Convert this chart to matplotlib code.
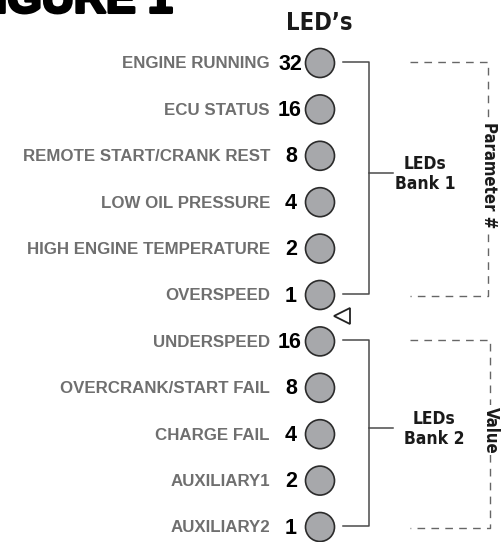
import matplotlib
matplotlib.use("Agg")
import matplotlib.pyplot as plt
from matplotlib.patches import Circle
from matplotlib import font_manager
import matplotlib.patheffects as pe

# ---- data ----
bank1_labels = ["ENGINE RUNNING", "ECU STATUS", "REMOTE START/CRANK REST",
                "LOW OIL PRESSURE", "HIGH ENGINE TEMPERATURE", "OVERSPEED"]
bank1_values = [32, 16, 8, 4, 2, 1]
bank2_labels = ["UNDERSPEED", "OVERCRANK/START FAIL", "CHARGE FAIL",
                "AUXILIARY1", "AUXILIARY2"]
bank2_values = [16, 8, 4, 2, 1]
title_text = "FIGURE 1"
header_text = "LED\u2019s"
bank_names = ["LEDs\nBank 1", "LEDs\nBank 2"]
side_names = ["Parameter #", "Value"]

# pick a condensed bold face if one is installed
cond_file = None
for f in font_manager.fontManager.ttflist:
    fn = f.fname.lower()
    if ("condensed" in fn or "narrow" in fn) and ("bold" in fn) and "oblique" not in fn and "italic" not in fn:
        cond_file = f.fname
        break
if cond_file:
    narrow_fp = lambda size: font_manager.FontProperties(fname=cond_file, size=size)
else:
    narrow_fp = lambda size: font_manager.FontProperties(family="Roboto", weight="bold", size=size)

sans = "Liberation Sans"

W, H = 503, 542
fig = plt.figure(figsize=(W / 100, H / 100), dpi=100)
ax = fig.add_axes([0, 0, 1, 1])
ax.set_xlim(0, W)
ax.set_ylim(H, 0)
ax.axis("off")

row0, step = 63, 46.4
led_x, led_r = 320, 14.5
lab_x = 270
line_c = "#4a4a4a"
lw = 1.1

ax.text(173, 12.5, title_text, ha="right", va="baseline", fontsize=32,
        fontweight="bold", family=sans, color="black",
        path_effects=[pe.withStroke(linewidth=2.2, foreground="black")])
ax.text(319, 30, header_text, ha="center", va="baseline",
        fontproperties=narrow_fp(17), color="#1a1a1a")

labels = bank1_labels + bank2_labels
values = bank1_values + bank2_values
ys = [row0 + i * step for i in range(len(labels))]
for lab, val, y in zip(labels, values, ys):
    ax.add_patch(Circle((led_x, y), led_r, facecolor="#a7a8ab",
                        edgecolor="#2b2b2b", lw=1.2, zorder=3))
    ax.text(lab_x, y + 1, lab, ha="right", va="center", fontsize=12.2,
            fontweight="bold", family=sans, color="#6f6f6f")
    nx = 302 if val >= 10 else 297
    ax.text(nx, y + 1, str(val), ha="right", va="center", fontsize=15.5,
            fontweight="bold", family=sans, color="black")

# triangle pointer between banks
ax.plot([342], [315.5], marker="<", markersize=11, markerfacecolor="white",
        markeredgecolor="#222222", markeredgewidth=1.3, zorder=4)

banks = [(ys[0], ys[5]), (ys[6], ys[10])]
for (top, bot), bname, sname in zip(banks, bank_names, side_names):
    top_l = top - 1.5
    bot_l = bot - 1
    ax.plot([343, 369, 369, 343], [top_l, top_l, bot_l, bot_l], color=line_c, lw=lw)
    mid = (top_l + bot_l) / 2 - 5
    ax.plot([369, 393], [mid, mid], color=line_c, lw=lw)
    tx = 425 if bname.endswith("1") else 434
    ax.text(tx, mid + 1, bname, ha="center", va="center",
            fontproperties=narrow_fp(12.5), color="#1a1a1a", linespacing=1.15)
    rx = 488 if bname.endswith("1") else 490
    ax.plot([410, rx, rx, 410], [top_l, top_l, bot_l + 2, bot_l + 2],
            color="#666666", lw=1.0, dashes=(5.5, 4.5))
    ax.text(rx + 1, mid + 2, sname, ha="center", va="center", rotation=270,
            fontproperties=narrow_fp(12), color="#1a1a1a",
            bbox=dict(facecolor="white", edgecolor="none", pad=1.5))

fig.savefig("out.png", dpi=100)
